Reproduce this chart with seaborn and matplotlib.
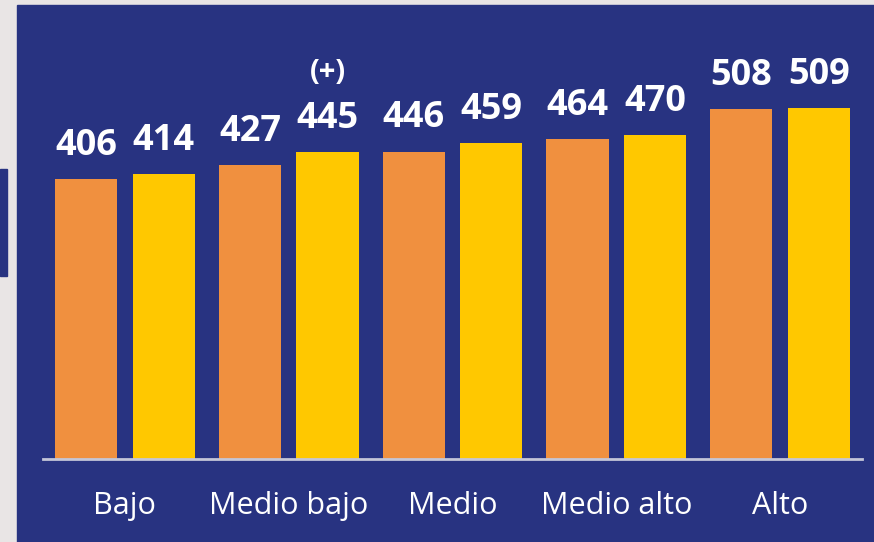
import pandas as pd
import matplotlib.pyplot as plt
import seaborn as sns
from matplotlib.patches import Rectangle

# Data
grupos = ["Bajo", "Medio bajo", "Medio", "Medio alto", "Alto"]
serie_a = [406, 427, 446, 464, 508]
serie_b = [414, 445, 459, 470, 509]
nombres_series = ["Serie 1", "Serie 2"]
marca_grupo = "Medio bajo"
marca_texto = "(+)"

azul = "#283381"
naranja = "#f0903f"
amarillo = "#ffc800"

df = pd.DataFrame({
    "grupo": grupos * 2,
    "serie": [nombres_series[0]] * len(grupos) + [nombres_series[1]] * len(grupos),
    "valor": serie_a + serie_b,
})

sns.set_style("white")
plt.rcParams["font.family"] = ["Open Sans", "DejaVu Sans"]

fig = plt.figure(figsize=(8.74, 5.42), dpi=100)
fig.patch.set_facecolor("#e9e5e5")

# blue panel and the small blue tab on the left edge (behind the axes)
fig.patches.append(Rectangle((17 / 874, 0), 1 - 17 / 874, 1 - 5 / 542,
                             transform=fig.transFigure, color=azul, zorder=-10))
fig.patches.append(Rectangle((0, 1 - 276 / 542), 7 / 874, 107 / 542,
                             transform=fig.transFigure, color=azul, zorder=-10))

ax = fig.add_axes([43 / 874, 83 / 542, (862 - 43) / 874, (459 - 5) / 542])
ax.set_facecolor("none")

sns.barplot(data=df, x="grupo", y="valor", hue="serie",
            palette=[naranja, amarillo], saturation=1, width=0.948, gap=0.2,
            linewidth=0, legend=False, ax=ax)

for cont in ax.containers:
    ax.bar_label(cont, padding=11, color="white", fontsize=26,
                 fontweight="bold")

# the "(+)" mark above the second bar of "Medio bajo"
i = grupos.index(marca_grupo)
barra = ax.containers[1][i]
ax.annotate(marca_texto, xy=(barra.get_x() + barra.get_width() / 2, barra.get_height()),
            xytext=(0, 47), textcoords="offset points", ha="center", va="bottom",
            color="white", fontsize=21, fontweight="bold")

ax.set_xlim(-0.5, 4.5)
ax.set_ylim(0, 659)
ax.set_xlabel("")
ax.set_ylabel("")
ax.set_yticks([])
ax.tick_params(axis="x", length=0, pad=23, labelsize=22, labelcolor="white")
for lado in ["top", "right", "left"]:
    ax.spines[lado].set_visible(False)
ax.spines["bottom"].set_color("#c4c6d8")
ax.spines["bottom"].set_linewidth(2)

fig.savefig("out.png", dpi=100, facecolor=fig.get_facecolor())
